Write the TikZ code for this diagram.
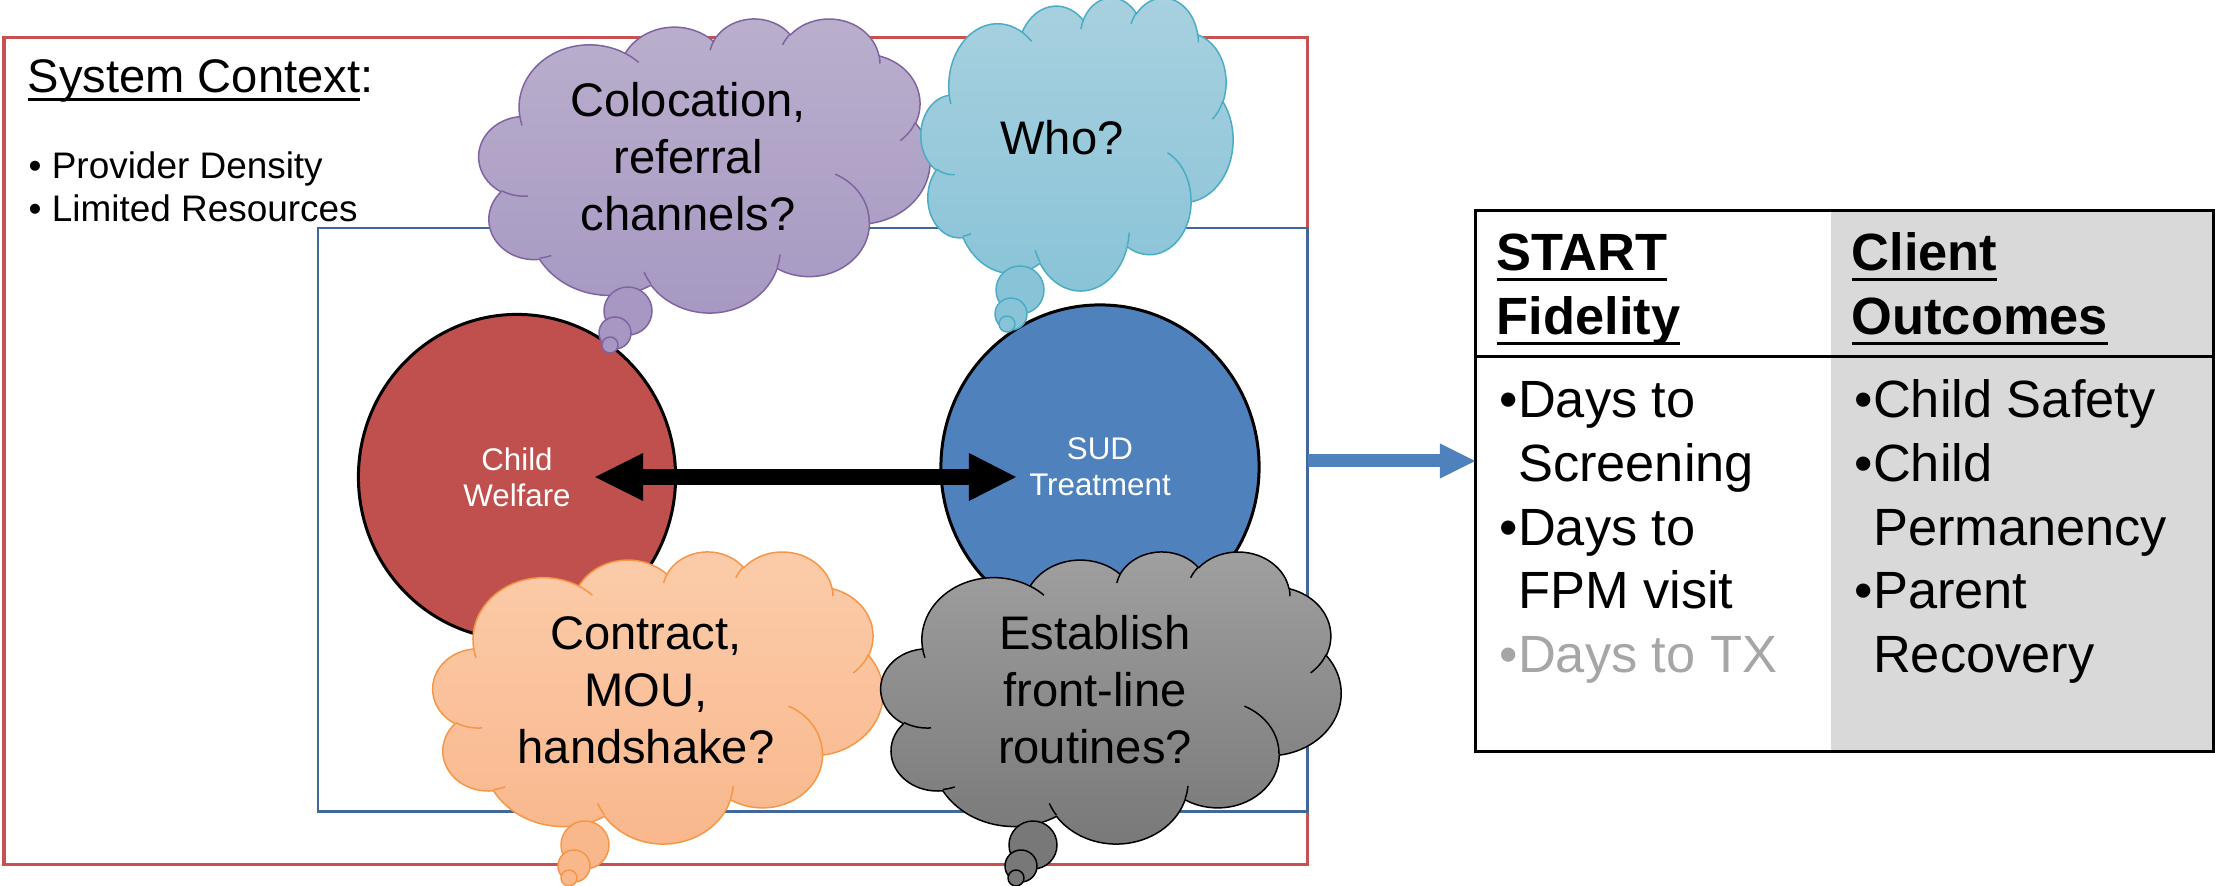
\documentclass[tikz,border=0pt]{standalone}
\usepackage{fontspec}
\setmainfont{Liberation Sans}
\usetikzlibrary{arrows.meta,shapes.geometric,calc}

\definecolor{ctxred}{RGB}{200,80,80}
\definecolor{ctxblue}{RGB}{65,103,155}
\definecolor{cwred}{RGB}{192,80,77}
\definecolor{sudblue}{RGB}{79,129,189}
\definecolor{purpleA}{RGB}{187,175,205}
\definecolor{purpleB}{RGB}{166,152,194}
\definecolor{purpleL}{RGB}{128,100,162}
\definecolor{cyanA}{RGB}{168,209,223}
\definecolor{cyanB}{RGB}{137,195,215}
\definecolor{cyanL}{RGB}{75,172,198}
\definecolor{orangeA}{RGB}{251,204,170}
\definecolor{orangeB}{RGB}{249,183,140}
\definecolor{orangeL}{RGB}{247,150,70}
\definecolor{grayA}{RGB}{160,160,160}
\definecolor{grayB}{RGB}{120,120,120}
\definecolor{colgray}{RGB}{217,217,217}
\definecolor{txgray}{RGB}{166,166,166}

% underline at a fixed depth below the baseline: #1 depth, #2 thickness, #3 text
\newcommand\ulbox[3]{\setbox0=\hbox{#3}\rlap{\rule[#1]{\wd0}{#2}}\box0}

\tikzset{
  % elliptical arc given by radii and start/sweep angles measured as ray angles
  cloudarc/.code args={#1/#2/#3/#4}{%
    \pgfmathsetmacro\cla{atan2((#1)*sin(#3),(#2)*cos(#3))}%
    \pgfmathsetmacro\clb{atan2((#1)*sin((#3)+(#4)),(#2)*cos((#3)+(#4)))}%
    \pgfmathsetmacro\cld{\clb-\cla}%
    \pgfmathsetmacro\cld{\cld-360*round((\cld-(#4))/360)}%
    \pgfmathsetmacro\cle{\cla+\cld}%
    \tikzset{start angle=\cla, end angle=\cle, x radius=#1, y radius=#2}%
  },
  cloud outline/.style={insert path={
    (39.00,143.70)
    arc[cloudarc={67.53/91.90/-190.4875/123.7805}]
    arc[cloudarc={53.33/72.67/-144.1024/89.9452}]
    arc[cloudarc={43.65/59.45/-145.8079/99.7230}]
    arc[cloudarc={48.57/65.95/-130.9861/117.2417}]
    arc[cloudarc={53.33/72.73/-78.7089/109.0269}]
    arc[cloudarc={67.75/92.20/-46.2673/130.2690}]
    arc[cloudarc={57.85/78.67/0.6250/114.0333}]
    arc[cloudarc={67.52/92.15/22.4516/115.1726}]
    arc[cloudarc={77.20/105.43/66.2426/75.7110}]
    arc[cloudarc={43.60/59.18/-274.9421/146.7356}]
    arc[cloudarc={43.45/59.45/-246.8285/152.5189}]
    -- cycle}},
  cloud creases/.style={insert path={
    (46.93,261.77) arc[cloudarc={43.45/59.45/86.7420/26.4295}]
    (69.28,348.99) arc[cloudarc={43.60/59.18/73.6105/11.4475}]
    (164.78,390.90) arc[cloudarc={67.52/92.15/137.6242/14.0811}]
    (288.27,347.51) arc[cloudarc={67.52/92.15/6.4533/15.9984}]
    (341.29,229.54) arc[cloudarc={57.85/78.67/-70.2924/70.9174}]
    (417.98,153.54) arc[cloudarc={53.33/72.73/30.3180/27.7515}]
    (383.24,54.26) arc[cloudarc={48.57/65.95/-13.7443/14.8589}]
    (290.78,39.52) arc[cloudarc={48.57/65.95/-149.1815/18.1954}]
    (221.41,47.20) arc[cloudarc={43.65/59.45/-163.4943/17.6864}]
    (140.00,51.92) arc[cloudarc={67.53/91.90/-66.7070/12.3194}]
    (41.27,157.89) arc[cloudarc={67.53/91.90/157.6544/11.8582}]}},
  cloudline/.style={line width=0.015cm, line join=round},
  cloudtext/.style={anchor=base, inner sep=0, font=\fontsize{13.4}{16.2}\selectfont},
  agency/.style={ellipse, draw=black, line width=0.03cm, inner sep=0, text=white,
    align=center, font=\fontsize{8.9}{10.3}\selectfont},
  framebox/.style={anchor=north west, inner sep=0, outer sep=0},
  tabletext/.style={anchor=base west, inner sep=0, font=\fontsize{14.9}{18.07}\selectfont},
}

% thought cloud: #1,#2 top left, #3 width, #4 height, #5 top colour, #6 bottom colour, #7 outline
\newcommand\thought[7]{%
  \begin{scope}[shift={(#1,#2)}, xscale=#3/432, yscale=#4/432]
    \path[cloudline, draw=#7, top color=#5, bottom color=#6, cloud outline];
    \path[cloudline, draw=#7, cloud creases];
  \end{scope}}

% three bubbles trailing a cloud: big, medium, small centres
\newcommand\bubbles[5]{%
  \path[cloudline, draw=#1, fill=#2] (#3) circle[radius=24];
  \path[cloudline, draw=#1, fill=#2] (#4) circle[radius=16];
  \path[cloudline, draw=#1, fill=#2] (#5) circle[radius=8];}

\begin{document}
\begin{tikzpicture}[x=0.01cm, y=-0.01cm]
\useasboundingbox (0,0) rectangle (2215,886);

% system frame and core frame
\node[framebox, draw=ctxred, line width=0.03cm, minimum width=13.03cm, minimum height=8.26cm] (ctx) at (4,38) {};
\node[framebox, draw=ctxblue, line width=0.025cm, minimum width=9.89cm, minimum height=5.83cm] (core) at (318,228) {};

\node[anchor=base west, inner sep=0, font=\fontsize{13.4}{16}\selectfont] (ctxtitle) at (27,93)
  {\ulbox{-0.165em}{0.06em}{System Context}:};
\node[anchor=base west, inner sep=0, font=\fontsize{10.5}{12.2}\selectfont] (ctxlist) at (28,179)
  {\begin{tabular}[t]{@{}l@{}}• Provider Density\\• Limited Resources\end{tabular}};

% the two agencies
\node[agency, fill=cwred, minimum width=3.17cm, minimum height=3.25cm] (cw) at (517,477) {Child\\Welfare};
\node[agency, fill=sudblue, minimum width=3.18cm, minimum height=3.24cm] (sud) at (1100,467) {SUD\\Treatment};

\draw[black, line width=0.16cm,
  {Triangle[length=0.48cm,width=0.48cm,line width=0pt]}-{Triangle[length=0.47cm,width=0.48cm,line width=0pt]},
  shorten <=0.78cm, shorten >=0.84cm] (cw.center) -- (cw.center -| sud.center);

% thought clouds
\thought{479}{18}{451}{294}{purpleA}{purpleB}{purpleL}
\bubbles{purpleL}{purpleB}{628,311}{615,333}{610,345}
\node[cloudtext] (coloc) at (688,117) {\begin{tabular}[t]{@{}c@{}}Colocation,\\referral\\channels?\end{tabular}};

\thought{921}{-3}{312}{293}{cyanA}{cyanB}{cyanL}
\bubbles{cyanL}{cyanB}{1020,290}{1011,314}{1007,324}
\node[cloudtext] (who) at (1062,155) {Who?};

\thought{433}{551}{450}{292}{orangeA}{orangeB}{orangeL}
\bubbles{orangeL}{orangeB}{585,845}{574,866}{569,878}
\node[cloudtext] (contract) at (646,650) {\begin{tabular}[t]{@{}c@{}}Contract,\\MOU,\\handshake?\end{tabular}};

\thought{881}{551}{460}{292}{grayA}{grayB}{black}
\bubbles{black}{grayB}{1033,845}{1021,866}{1016,878}
\node[cloudtext] (routine) at (1095,650) {\begin{tabular}[t]{@{}c@{}}Establish\\front-line\\routines?\end{tabular}};

% results table
\fill[colgray] (1831,211) rectangle (2213,751);
\node[framebox, draw=black, line width=0.03cm, minimum width=7.38cm, minimum height=5.40cm] (tab) at (1475,211) {};
\coordinate (hdr) at (0,357);
\draw[black, line width=0.03cm] (tab.west |- hdr) -- (tab.east |- hdr);

\node[tabletext, font=\bfseries\fontsize{14.9}{18.2}\selectfont] (fidh) at (1496,271)
  {\begin{tabular}[t]{@{}l@{}}\ulbox{-0.2em}{0.075em}{START}\\\ulbox{-0.2em}{0.075em}{Fidelity}\end{tabular}};
\node[tabletext, font=\bfseries\fontsize{14.9}{18.2}\selectfont] (outh) at (1851,271)
  {\begin{tabular}[t]{@{}l@{}}\ulbox{-0.2em}{0.075em}{Client}\\\ulbox{-0.2em}{0.075em}{Outcomes}\end{tabular}};
\node[tabletext] (fidl) at (1499,418)
  {\begin{tabular}[t]{@{}l@{}}•Days to\\\hphantom{•}Screening\\•Days to\\\hphantom{•}FPM visit\\\textcolor{txgray}{•Days to TX}\end{tabular}};
\node[tabletext] (outl) at (1854,418)
  {\begin{tabular}[t]{@{}l@{}}•Child Safety\\•Child\\\hphantom{•}Permanency\\•Parent\\\hphantom{•}Recovery\end{tabular}};

% flow into the results
\coordinate (flow) at (0,461);
\draw[sudblue, line width=0.13cm, -{Triangle[length=0.35cm,width=0.35cm,line width=0pt]}]
  (ctx.east |- flow) -- (tab.west |- flow);
\end{tikzpicture}
\end{document}
